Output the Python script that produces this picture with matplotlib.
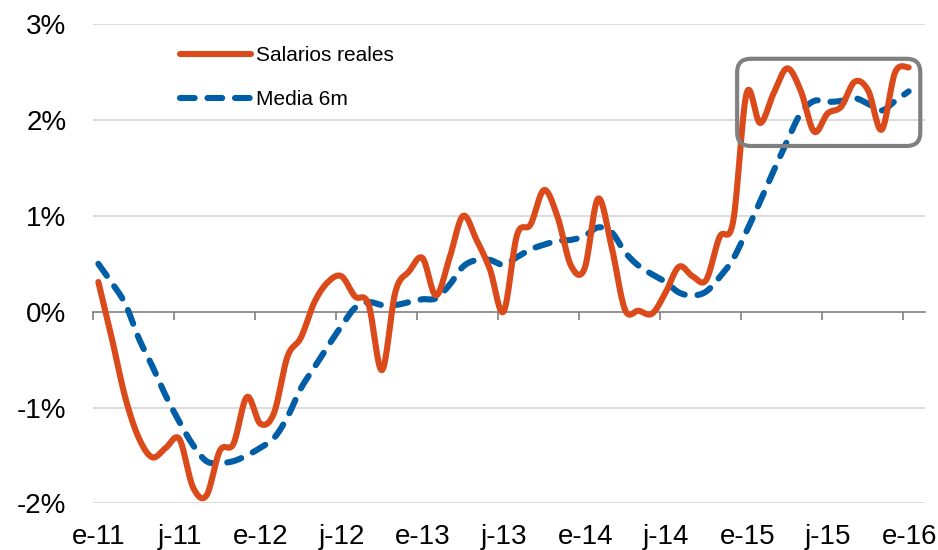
import numpy as np
import matplotlib.pyplot as plt
from matplotlib.patches import FancyBboxPatch

plt.rcParams['font.family'] = ['Liberation Sans', 'DejaVu Sans']

# monthly values, Jan 2011 .. Jan 2016 (%)
salarios = [0.31, -0.28, -0.90, -1.32, -1.52, -1.42, -1.33, -1.83, -1.92, -1.45,
            -1.38, -0.89, -1.17, -1.06, -0.47, -0.27, 0.10, 0.31, 0.37, 0.16,
            0.08, -0.61, 0.21, 0.42, 0.56, 0.17, 0.56, 1.00, 0.75, 0.44,
            0.00, 0.80, 0.91, 1.27, 0.99, 0.48, 0.45, 1.18, 0.68, 0.02,
            0.01, -0.02, 0.20, 0.47, 0.37, 0.33, 0.78, 0.94, 2.28, 1.97,
            2.28, 2.54, 2.31, 1.88, 2.07, 2.14, 2.40, 2.31, 1.90, 2.50,
            2.55]
media6m = [0.50, 0.30, 0.08, -0.28, -0.57, -0.88, -1.15, -1.39, -1.56, -1.58,
           -1.56, -1.50, -1.42, -1.32, -1.10, -0.80, -0.58, -0.36, -0.15, 0.04,
           0.10, 0.07, 0.07, 0.10, 0.13, 0.14, 0.28, 0.47, 0.54, 0.54,
           0.49, 0.57, 0.65, 0.70, 0.74, 0.75, 0.79, 0.88, 0.83, 0.62,
           0.48, 0.39, 0.31, 0.20, 0.17, 0.21, 0.36, 0.55, 0.84, 1.15,
           1.47, 1.78, 2.07, 2.20, 2.19, 2.20, 2.23, 2.17, 2.10, 2.20,
           2.30]
etiquetas = ['e-11', 'j-11', 'e-12', 'j-12', 'e-13', 'j-13',
             'e-14', 'j-14', 'e-15', 'j-15', 'e-16']

NARANJA = '#DA4A1A'
AZUL = '#005EA6'


def suave(x, y, n=16):
    # curva tipo Catmull-Rom, como las lineas suavizadas de Excel
    x = np.asarray(x, float)
    y = np.asarray(y, float)
    px = np.concatenate(([x[0]], x, [x[-1]]))
    py = np.concatenate(([y[0]], y, [y[-1]]))
    t = np.linspace(0, 1, n, endpoint=False)
    xs, ys = [], []
    for i in range(1, len(px) - 2):
        for p, out in ((px, xs), (py, ys)):
            p0, p1, p2, p3 = p[i - 1], p[i], p[i + 1], p[i + 2]
            out.append(0.5 * (2 * p1 + (-p0 + p2) * t
                              + (2 * p0 - 5 * p1 + 4 * p2 - p3) * t ** 2
                              + (-p0 + 3 * p1 - 3 * p2 + p3) * t ** 3))
    xs.append([x[-1]])
    ys.append([y[-1]])
    return np.concatenate(xs), np.concatenate(ys)


meses = np.arange(len(salarios)) + 0.4

fig = plt.figure(figsize=(9.38, 5.5), dpi=100)
ax = fig.add_axes([0.0991, 0.0849, 0.8869, 0.8709])

for v in [-2, -1, 1, 2, 3]:
    ax.axhline(v, color='#D9D9D9', lw=1.3, zorder=0)

xs, ys = suave(meses, salarios)
ax.plot(xs, ys, color=NARANJA, lw=4.4, solid_capstyle='round',
        label='Salarios reales', zorder=3)
xs, ys = suave(meses, media6m)
ax.plot(xs, ys, color=AZUL, lw=4.4, dashes=(2.4, 2.1),
        dash_capstyle='round', label='Media 6m', zorder=2)

caja = FancyBboxPatch((47.7, 1.73), 61.26 - 47.7, 2.64 - 1.73,
                      boxstyle='round,pad=0,rounding_size=1.0',
                      mutation_aspect=13.5 / 95.8, fill=False,
                      ec='#808080', lw=3.0, zorder=4)
ax.add_patch(caja)

ax.set_xlim(0, 61.6)
ax.set_ylim(-2, 3)
ax.set_yticks([-2, -1, 0, 1, 2, 3])
ax.set_yticklabels(['-2%', '-1%', '0%', '1%', '2%', '3%'])
ax.tick_params(axis='y', length=0, pad=19, labelsize=20)

for s in ['top', 'right', 'left']:
    ax.spines[s].set_visible(False)
ax.spines['bottom'].set_position(('data', 0))
ax.spines['bottom'].set_color('#808080')
ax.spines['bottom'].set_linewidth(1.2)
ax.spines['bottom'].set_zorder(1)
ax.set_xticks(np.arange(0, 61, 6))
ax.tick_params(axis='x', direction='out', length=6, width=1.2,
               color='#808080', labelbottom=False)

sec = ax.secondary_xaxis('bottom')
sec.set_xticks(np.arange(0, 61, 6) + 0.45)
sec.set_xticklabels(etiquetas)
sec.tick_params(length=0, pad=15, labelsize=20)
sec.spines['bottom'].set_visible(False)

ax.legend(loc='upper left', bbox_to_anchor=(0.1046, 0.955), frameon=False,
          fontsize=15, handlelength=3.4, handletextpad=0.25,
          labelspacing=1.2, borderpad=0, borderaxespad=0)

fig.savefig('out.png', dpi=100)
